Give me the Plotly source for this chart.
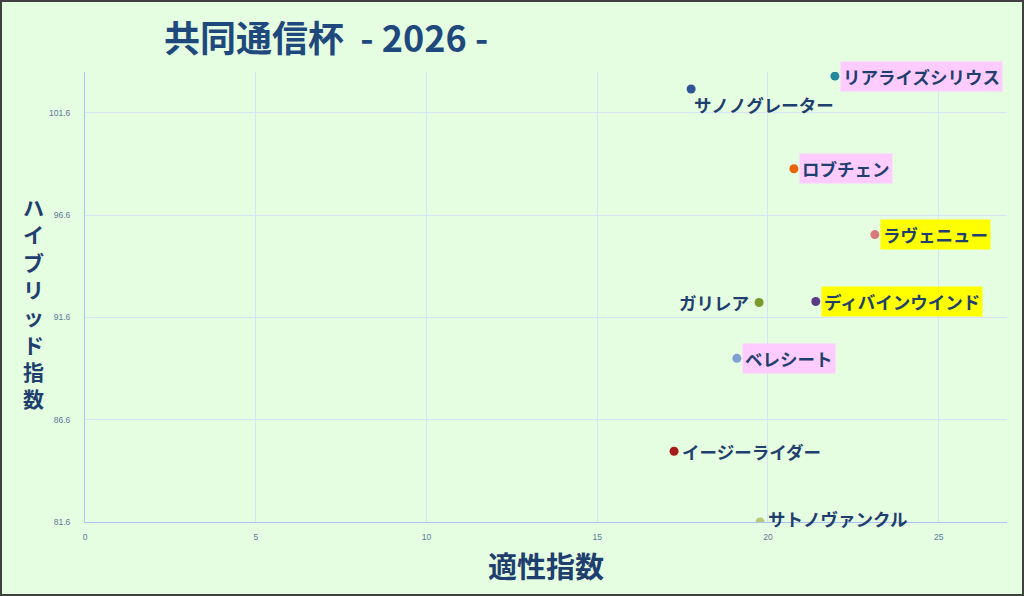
import plotly.graph_objects as go

# data
horses = ['サノノグレーター', 'リアライズシリウス', 'ロブチェン', 'ラヴェニュー', 'ガリレア',
          'ディバインウインド', 'ベレシート', 'イージーライダー', 'サトノヴァンクル']
tekisei = [17.75, 21.96, 20.76, 23.13, 19.74, 21.40, 19.09, 17.25, 19.77]
hybrid = [102.77, 103.40, 98.87, 95.65, 92.33, 92.38, 89.60, 85.06, 81.60]

# styling
dot_colors = ['#2f5597', '#23889c', '#e8640c', '#d67a7a', '#7a9a2c',
              '#5b3a83', '#7f9fd2', '#a61c1c', '#b9c97c']
label_bg = {'リアライズシリウス': '#ffccff', 'ロブチェン': '#ffccff', 'ベレシート': '#ffccff',
            'ラヴェニュー': '#ffff00', 'ディバインウインド': '#ffff00'}
label_left = ['ガリレア']
label_below = ['サノノグレーター']
label_up = ['サトノヴァンクル']

navy = '#1f3f6e'
bg = '#e5fde1'
jp = 'Noto Sans CJK JP'
tickfont = dict(family='Liberation Sans', size=8.5, color='#5a7a9a')

fig = go.Figure()
fig.add_trace(go.Scatter(x=tekisei, y=hybrid, mode='markers', text=horses,
                         marker=dict(size=9, color=dot_colors), hoverinfo='text',
                         showlegend=False))

for name, xv, yv in zip(horses, tekisei, hybrid):
    if name in label_left:
        xa, xs, ys = 'right', -7, 0
    elif name in label_below:
        xa, xs, ys = 'left', 0, -16
    elif name in label_up:
        xa, xs, ys = 'left', 5, 4
    else:
        xa, xs, ys = 'left', 5, 0
    fig.add_annotation(x=xv, y=yv, text='<b>' + name + '</b>', showarrow=False, xanchor=xa,
                       yanchor='middle', xshift=xs, yshift=ys,
                       bgcolor=label_bg.get(name, 'rgba(0,0,0,0)'), borderpad=2,
                       font=dict(family=jp, size=17.5, color=navy))

# title and axis titles
fig.add_annotation(xref='paper', yref='paper', x=0.084, y=1.0, yshift=36, xanchor='left',
                   yanchor='middle', showarrow=False,
                   text='<b>共同通信杯  - 2026 -</b>',
                   font=dict(family=jp, size=36, color='#1f497d'))
fig.add_annotation(xref='paper', yref='paper', x=0.5, y=0, yshift=-43, showarrow=False,
                   yanchor='middle', text='<b>適性指数</b>',
                   font=dict(family=jp, size=29, color=navy))
fig.add_annotation(xref='paper', yref='paper', x=0, xshift=-52, y=1, yshift=-118,
                   showarrow=False, yanchor='top', xanchor='center',
                   text='<b>' + '<br>'.join('ハイブリッド指数') + '</b>',
                   font=dict(family=jp, size=21, color=navy))

# outer border round the whole picture
pw, ph = 1024 - 85 - 17, 596 - 72 - 74
fig.add_shape(type='rect', xref='paper', yref='paper', x0=-84 / pw, x1=1 + 16 / pw,
              y0=-73 / ph, y1=1 + 71 / ph, line=dict(color='#404040', width=2))

fig.update_xaxes(range=[0, 27], tick0=0, dtick=5, showgrid=True, gridcolor='#d8e4f4',
                 zeroline=False, showline=True, linecolor='#a9c4ef', linewidth=1,
                 ticks='', tickfont=tickfont, ticklabelstandoff=7)
fig.update_yaxes(range=[81.6, 103.6], tick0=81.6, dtick=5, tickformat='.1f', showgrid=True,
                 gridcolor='#d8e4f4', zeroline=False, showline=True, linecolor='#a9c4ef',
                 linewidth=1, ticks='', tickfont=tickfont, ticklabelstandoff=12)
fig.update_layout(width=1024, height=596, margin=dict(l=85, r=17, t=72, b=74),
                  paper_bgcolor=bg, plot_bgcolor=bg, font=dict(family=jp))
fig.write_html('out.html', config={'displayModeBar': False},
               post_script="document.body.style.margin='0';")
